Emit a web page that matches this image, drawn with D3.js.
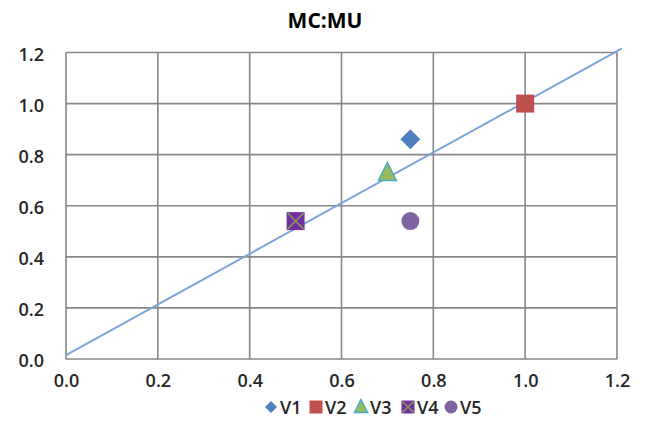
<!DOCTYPE html>
<html><head><meta charset="utf-8">
<script src="https://cdn.jsdelivr.net/npm/d3@7"></script>
<style>body{margin:0;background:#fff}svg{display:block}text{font-family:"Open Sans",sans-serif}</style>
</head><body>
<svg id="c" width="645" height="437"></svg>
<script>
const title = "MC:MU";
const seriesNames = ["V1","V2","V3","V4","V5"];
const xValues = [0.75, 1.0, 0.70, 0.50, 0.75];
const yValues = [0.86, 1.0, 0.73, 0.54, 0.54];
const seriesColors = ["#4F81BD","#C0504D","#9BBB59","#7030A0","#8064A2"];
const seriesShapes = ["diamond","square","triangle","xsquare","circle"];
const lineX = [0, 1.21];
const lineY = [0.015, 1.215];
const xTicks = [0,0.2,0.4,0.6,0.8,1.0,1.2];
const yTicks = [0,0.2,0.4,0.6,0.8,1.0,1.2];

const svg = d3.select("#c");
const x = d3.scaleLinear().domain([0,1.2]).range([66,617]);
const y = d3.scaleLinear().domain([0,1.2]).range([359,52.5]);

const g = svg.append("g");
g.selectAll(".vx").data(xTicks).join("line")
  .attr("x1",d=>x(d)).attr("x2",d=>x(d)).attr("y1",y(0)).attr("y2",y(1.2))
  .attr("stroke","#878787").attr("stroke-width",1.6);
g.selectAll(".hy").data(yTicks).join("line")
  .attr("y1",d=>y(d)).attr("y2",d=>y(d)).attr("x1",x(0)).attr("x2",x(1.2))
  .attr("stroke","#878787").attr("stroke-width",1.6);

const xAxis = svg.append("g").attr("transform",`translate(0,${y(0)})`)
  .call(d3.axisBottom(x).tickValues(xTicks).tickFormat(d3.format(".1f")).tickSize(0).tickPadding(15));
const yAxis = svg.append("g").attr("transform",`translate(${x(0)},2)`)
  .call(d3.axisLeft(y).tickValues(yTicks).tickFormat(d3.format(".1f")).tickSize(0).tickPadding(22));
[xAxis,yAxis].forEach(a=>{a.select(".domain").remove();
  a.selectAll("text").attr("font-size",18).attr("font-weight",600).attr("fill","#262626").attr("font-family","'Open Sans',sans-serif");});

svg.append("line").attr("x1",x(lineX[0])).attr("y1",y(lineY[0])).attr("x2",x(lineX[1])).attr("y2",y(lineY[1]))
  .attr("stroke","#7BA4D9").attr("stroke-width",2);

function marker(sel, shape, color, s){
  const h=s/2;
  if(shape==="diamond") sel.append("path").attr("d",`M0,${-h-1}L${h+1},0L0,${h+1}L${-h-1},0Z`).attr("fill",color);
  else if(shape==="square") sel.append("rect").attr("x",-h).attr("y",-h).attr("width",s).attr("height",s).attr("fill",color);
  else if(shape==="triangle") sel.append("path").attr("d",`M0,${-h-1}L${h},${h-1}L${-h},${h-1}Z`).attr("fill",color).attr("stroke","#4BACC6").attr("stroke-width",1.5);
  else if(shape==="xsquare"){ sel.append("rect").attr("x",-h).attr("y",-h).attr("width",s).attr("height",s).attr("fill",color);
    sel.append("path").attr("d",`M${-h+1},${-h+1}L${h-1},${h-1}M${h-1},${-h+1}L${-h+1},${h-1}`).attr("stroke","#8A9A5B").attr("stroke-width",1.5);}
  else if(shape==="circle") sel.append("circle").attr("r",h).attr("fill",color);
}

seriesNames.forEach((n,i)=>{
  const m = svg.append("g").attr("transform",`translate(${x(xValues[i])},${y(yValues[i])})`);
  marker(m, seriesShapes[i], seriesColors[i], 18);
});

svg.append("text").attr("x",325).attr("y",28).attr("text-anchor","middle")
  .attr("font-size",21).attr("font-weight","bold").attr("fill","#000").text(title);

const legX = [271, 316, 361, 408, 451];
const leg = svg.append("g");
seriesNames.forEach((n,i)=>{
  const m = leg.append("g").attr("transform",`translate(${legX[i]},407)`);
  marker(m, seriesShapes[i], seriesColors[i], i===0?10:13);
  leg.append("text").attr("x",legX[i]+9).attr("y",414).attr("font-size",18).attr("font-weight",600).attr("fill","#262626").text(n);
});
</script>
</body></html>
